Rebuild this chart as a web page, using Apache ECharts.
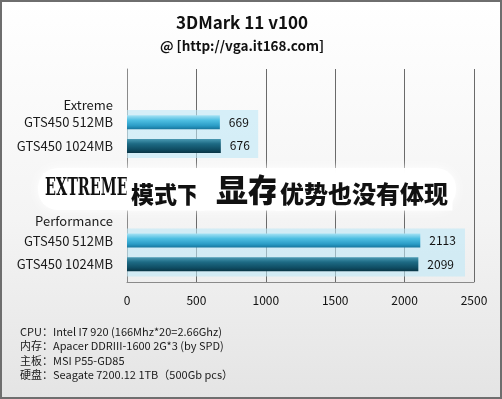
<!DOCTYPE html>
<html>
<head>
<meta charset="utf-8">
<script src="https://cdn.jsdelivr.net/npm/echarts@6/dist/echarts.min.js"></script>
<style>
  html, body { margin: 0; padding: 0; background: #fff; }
  #main { width: 502px; height: 399px; }
</style>
</head>
<body>
<div id="main"></div>
<script>
var myChart = echarts.init(document.getElementById('main'));

// 数据
var slotCount = 18; // y轴细分格数
var groupNames = ['Extreme', 'Performance'];
var cardNames = ['GTS450 512MB', 'GTS450 1024MB'];
var extremeScores = [669, 676];
var performanceScores = [2113, 2099];
var bandEnds = [945, 2435]; // 背景浅蓝带
var xTicks = [0, 500, 1000, 1500, 2000, 2500];
var footLines = [
  'CPU：Intel I7 920 (166Mhz*20=2.66Ghz)',
  '内存：Apacer DDRIII-1600 2G*3 (by SPD)',
  '主板：MSI P55-GD85',
  '硬盘：Seagate 7200.12 1TB（500Gb pcs）'
];

// 格位
var groupSlot = [3, 12];
var cardSlot = [[4, 6], [14, 16]];
var bandSlot = [5, 15];

var categories = [];
var s512 = [], s1024 = [], band = [];
for (var i = 0; i < slotCount; i++) {
  categories.push('');
  s512.push(null);
  s1024.push(null);
  band.push(null);
}
var scores = [extremeScores, performanceScores];
for (var g = 0; g < 2; g++) {
  categories[groupSlot[g]] = groupNames[g];
  categories[cardSlot[g][0]] = cardNames[0];
  categories[cardSlot[g][1]] = cardNames[1];
  s512[cardSlot[g][0]] = scores[g][0];
  s1024[cardSlot[g][1]] = scores[g][1];
  band[bandSlot[g]] = bandEnds[g];
}

var font = '"Noto Sans CJK SC", "Noto Sans", sans-serif';

var footText = footLines.map(function (t, i) {
  return {
    type: 'text',
    left: 20,
    top: 326 + i * 14.6,
    style: { text: t, fontSize: 11, fontFamily: font, fill: '#1a1a1a' }
  };
});

var bigStyle = { fontFamily: font, fontWeight: 900, fill: '#111', textBorderColor: '#fff', textBorderWidth: 9, verticalAlign: 'bottom', lineHeight: 34 };

option = {
  backgroundColor: new echarts.graphic.LinearGradient(0, 0, 0, 1, [
    { offset: 0, color: '#ffffff' },
    { offset: 0.55, color: '#f4f4f4' },
    { offset: 1, color: '#e4e4e4' }
  ]),
  title: {
    text: '3DMark 11 v100',
    subtext: '@ [http://vga.it168.com]',
    left: 237,
    textAlign: 'center',
    top: 9,
    itemGap: 8,
    textStyle: { fontSize: 17, fontWeight: 'bold', color: '#111', fontFamily: font },
    subtextStyle: { fontSize: 13.5, fontWeight: 'bold', color: '#111', fontFamily: font }
  },
  grid: { left: 127, right: 28, top: 69, bottom: 117, containLabel: false },
  xAxis: {
    type: 'value',
    min: 0,
    max: 2500,
    interval: 500,
    axisLine: { show: true, lineStyle: { color: '#8a8a8a', width: 1 } },
    axisTick: { show: false },
    splitLine: { show: true, lineStyle: { color: '#6a6a6a', width: 1 } },
    axisLabel: {
      color: '#111',
      fontSize: 12,
      margin: 12,
      fontFamily: font,
      formatter: function (v) { return xTicks.indexOf(v) >= 0 ? v : ''; }
    }
  },
  yAxis: [{
    type: 'category',
    inverse: true,
    data: categories,
    axisLine: { show: true, lineStyle: { color: '#8a8a8a' } },
    axisTick: { show: false },
    axisLabel: {
      interval: 0,
      color: '#1a1a1a',
      fontSize: 13,
      margin: 14,
      fontFamily: font,
      formatter: function (v) {
        if (v === 'Extreme') return '{ex|' + v + '}';
        if (v === 'Performance') return '{pf|' + v + '}';
        return v;
      },
      rich: {
        ex: { fontSize: 13, color: '#1a1a1a', fontFamily: font, padding: [0, 0, 10, 0] },
        pf: { fontSize: 13, color: '#1a1a1a', fontFamily: font, padding: [8, 0, 0, 0] }
      }
    }
  }, {
    type: 'category',
    inverse: true,
    data: categories,
    show: false
  }],
  series: [{
    name: 'band',
    type: 'bar',
    yAxisIndex: 1,
    data: band,
    barWidth: 48,
    silent: true,
    z: 1,
    itemStyle: { color: 'rgba(190,232,247,0.6)' }
  }, {
    name: cardNames[0],
    type: 'bar',
    data: s512,
    barWidth: 14,
    barGap: '-100%',
    z: 3,
    itemStyle: {
      color: new echarts.graphic.LinearGradient(0, 0, 0, 1, [
        { offset: 0, color: '#a6e2f4' },
        { offset: 0.35, color: '#4fbfe2' },
        { offset: 0.75, color: '#2a9cc6' },
        { offset: 1, color: '#17759c' }
      ])
    },
    label: { show: true, position: 'right', distance: 9, color: '#111', fontSize: 12, fontFamily: font }
  }, {
    name: cardNames[1],
    type: 'bar',
    data: s1024,
    barWidth: 14,
    barGap: '-100%',
    z: 3,
    itemStyle: {
      color: new echarts.graphic.LinearGradient(0, 0, 0, 1, [
        { offset: 0, color: '#4a9ab3' },
        { offset: 0.35, color: '#1d6a84' },
        { offset: 0.75, color: '#0f4d63' },
        { offset: 1, color: '#0a3545' }
      ])
    },
    label: { show: true, position: 'right', distance: 9, color: '#111', fontSize: 12, fontFamily: font }
  }],
  graphic: [{
    type: 'rect',
    shape: { x: 1, y: 1, width: 500, height: 397 },
    style: { fill: 'none', stroke: '#6e6e6e', lineWidth: 2 },
    z: 10
  }, {
    // 白底遮住网格线
    type: 'rect',
    shape: { x: 38, y: 168, width: 418, height: 42, r: 20 },
    style: { fill: 'rgba(255,255,255,0.96)', shadowBlur: 10, shadowColor: 'rgba(255,255,255,1)' },
    z: 15
  }, {
    type: 'text',
    x: 45,
    y: 176,
    scaleX: 0.64,
    z: 20,
    style: {
      text: 'EXTREME',
      font: 'bold 25px "DejaVu Serif Condensed", "DejaVu Serif", serif',
      fill: '#111',
      textBorderColor: '#fff',
      textBorderWidth: 6
    }
  }, {
    type: 'text',
    x: 131,
    y: 172,
    z: 20,
    style: {
      text: '{b|模式下}{c|显存}{d|优势也没有体现}',
      rich: {
        b: Object.assign({ fontSize: 23 }, bigStyle),
        c: Object.assign({ fontSize: 32, padding: [0, 0, 0, 16] }, bigStyle),
        d: Object.assign({ fontSize: 24 }, bigStyle)
      }
    }
  }].concat(footText)
};

if (option && typeof option === "object") {
  myChart.setOption(option, true);
}
</script>
</body>
</html>
